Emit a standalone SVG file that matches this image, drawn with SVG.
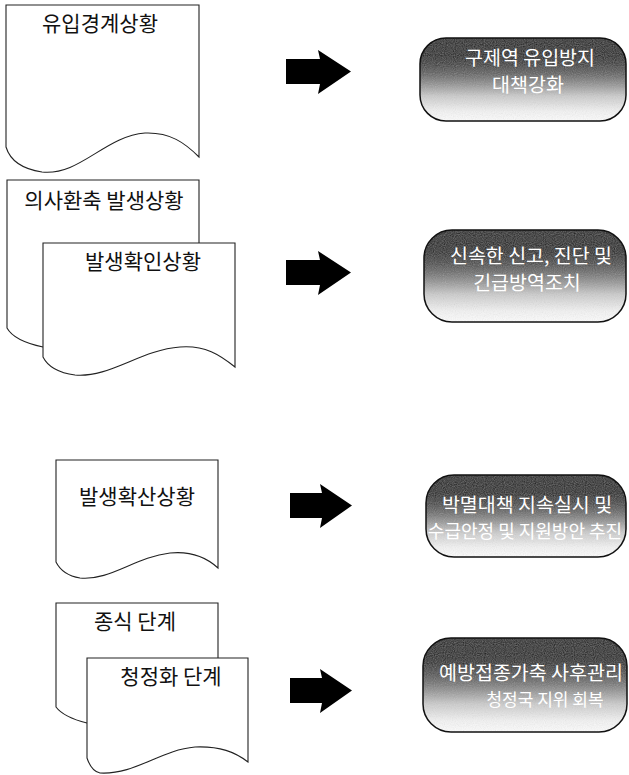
<svg xmlns="http://www.w3.org/2000/svg" width="629" height="775" viewBox="0 0 629 775">
<defs>
<linearGradient id="g" x1="0" y1="0" x2="0" y2="1">
<stop offset="0" stop-color="#000"/>
<stop offset="0.22" stop-color="#111"/>
<stop offset="0.45" stop-color="#666"/>
<stop offset="0.7" stop-color="#ccc"/>
<stop offset="0.88" stop-color="#f4f4f4"/>
<stop offset="1" stop-color="#fff"/>
</linearGradient>
<filter id="noise" x="0" y="0" width="100%" height="100%">
<feTurbulence type="fractalNoise" baseFrequency="0.9" numOctaves="1" result="n"/>
<feColorMatrix in="n" type="saturate" values="0" result="ng"/>
<feComponentTransfer in="ng" result="nc"><feFuncA type="table" tableValues="0 0.3"/></feComponentTransfer>
<feComposite in="nc" in2="SourceGraphic" operator="in" result="m"/>
<feMerge><feMergeNode in="SourceGraphic"/><feMergeNode in="m"/></feMerge>
</filter>
</defs>
<style>
.doc{fill:#fff;stroke:#222;stroke-width:1.1}
.lbl{font-family:"Noto Sans CJK KR","Noto Sans",sans-serif;font-size:21px;fill:#111;text-anchor:middle}
.box{fill:url(#g);filter:url(#noise)}
.bst{fill:none;stroke:#111;stroke-width:1.5}
.btx{font-family:"Noto Sans CJK KR","Noto Sans",sans-serif;font-size:19.5px;fill:#fff;text-anchor:middle}
.arr{fill:#000}
</style>
<g id="doc1">
<path class="doc" d="M6,5 H199 V157 C185,143 170,132 145,133 C105,136 80,176 42,172 C22,169 10,160 6,147 Z"/>
<text class="lbl" x="100" y="31">유입경계상황</text>
</g>
<g id="doc2">
<path class="doc" d="M7,180 H199 V330 L100,350 C75,352 60,350 43,347 C24,343 12,337 7,328 Z"/>
<text class="lbl" x="104" y="208">의사환축 발생상황</text>
</g>
<g id="doc2b">
<path class="doc" d="M43,243 H235 V367 C220,355 205,345 180,347 C140,350 110,378 75,375 C60,373 48,367 43,357 Z"/>
<text class="lbl" x="143" y="269">발생확인상황</text>
</g>
<g id="doc3">
<path class="doc" d="M56,460 H218 V568 C205,556 190,551 170,553 C135,557 110,581 80,578 C68,576 60,570 56,562 Z"/>
<text class="lbl" x="137" y="504">발생확산상황</text>
</g>
<g id="doc4">
<path class="doc" d="M56,603 H218 V700 L110,720 C100,723 92,724 87,723 C75,720 62,715 56,707 Z"/>
<text class="lbl" x="135" y="629">종식 단계</text>
</g>
<g id="doc4b">
<path class="doc" d="M87,658 H248 V762 C235,752 220,746 195,747 C160,750 135,775 100,773 C95,772 90,767 87,758 Z"/>
<text class="lbl" x="171" y="684">청정화 단계</text>
</g>
<g id="connectors">
<polygon class="arr" points="286,59 320,59 318,50 351,71.5 318,94 320,84 286,84"/>
<polygon class="arr" points="286,260 320,260 318,251 351,272.5 318,295 320,285 286,285"/>
<polygon class="arr" points="290,493 322,493 320,484 352,505.5 320,528 322,518 290,518"/>
<polygon class="arr" points="290,678 322,678 320,669 352,690.5 320,713 322,703 290,703"/>
</g>
<g id="box1">
<rect class="box" x="420" y="38" width="206" height="83" rx="26"/>
<rect class="bst" x="420" y="38" width="206" height="83" rx="26"/>
<text class="btx" x="530" y="65">구제역 유입방지</text>
<text class="btx" x="528" y="92">대책강화</text>
</g>
<g id="box2">
<rect class="box" x="424" y="230" width="202" height="92" rx="28"/>
<rect class="bst" x="424" y="230" width="202" height="92" rx="28"/>
<text class="btx" x="531" y="263">신속한 신고, 진단 및</text>
<text class="btx" x="527" y="290">긴급방역조치</text>
</g>
<g id="box3">
<rect class="box" x="426" y="475" width="200" height="82" rx="28"/>
<rect class="bst" x="426" y="475" width="200" height="82" rx="28"/>
<text class="btx" x="527" y="512">박멸대책 지속실시 및</text>
<text class="btx" x="525" y="538" style="font-size:18px">수급안정 및 지원방안 추진</text>
</g>
<g id="box4">
<rect class="box" x="423" y="638" width="204" height="94" rx="28"/>
<rect class="bst" x="423" y="638" width="204" height="94" rx="28"/>
<text class="btx" x="531" y="680">예방접종가축 사후관리</text>
<text class="btx" x="545" y="706" style="font-size:17px">청정국 지위 회복</text>
</g>
</svg>
